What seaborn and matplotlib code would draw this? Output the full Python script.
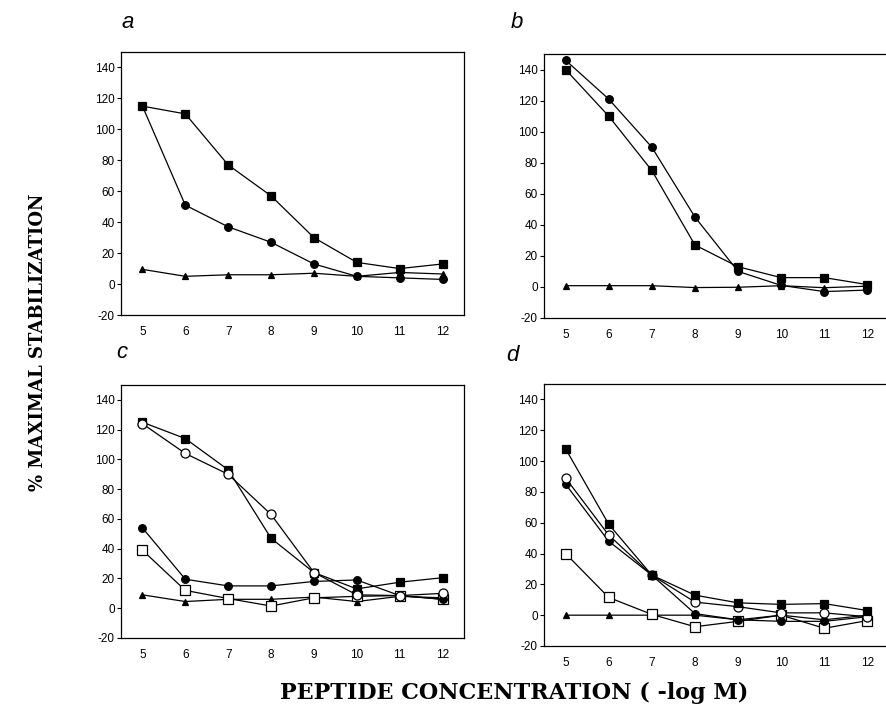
import numpy as np
import pandas as pd
import matplotlib
matplotlib.use('Agg')
import matplotlib.pyplot as plt
import seaborn as sns

sns.set_style('ticks')
plt.rcParams['font.family'] = ['Liberation Sans', 'DejaVu Sans']
plt.rcParams['axes.unicode_minus'] = False
plt.rcParams['text.color'] = 'black'
plt.rcParams['xtick.color'] = 'black'
plt.rcParams['ytick.color'] = 'black'

# data
conc = [5, 6, 7, 8, 9, 10, 11, 12]

a_filled_sq = [115, 110, 77, 57, 30, 14, 10, 13]
a_filled_circ = [115, 51, 37, 27, 13, 5, 4, 3]
a_tri = [9.5, 5, 6, 6, 7, 5, 7.5, 6.5]

b_filled_circ = [146, 121, 90, 45, 10, 1, -3, -2]
b_filled_sq = [140, 110, 75, 27, 13, 6, 6, 1.5]
b_tri = [0.8, 0.8, 0.8, -0.4, -0.2, 0.8, -0.5, 0.5]

c_filled_sq = [125, 114, 93, 47, 24, 13, 17.5, 20.5]
c_open_circ = [124, 104, 90, 63, 24, 9, 8.5, 10]
c_filled_circ = [54, 19.5, 15, 15, 18, 19, 8.5, 6]
c_open_sq = [39, 12, 6.5, 1.5, 7, 8, 8.5, 6]
c_tri = [9, 4.5, 6, 6, 7.5, 4.5, 8, 7]

d_filled_sq = [108, 59, 26, 13, 8, 7, 7.5, 3]
d_open_circ = [89, 52, 26, 8.5, 5.5, 1.5, 1.5, -1]
d_filled_circ = [85, 48, 26, 1, -3, -4, -4, -1]
d_open_sq = [40, 11.5, 0.5, -7.5, -4, 0, -8.5, -3.5]
d_tri = [0, 0, 0, 0, -3, 0, -3, 0]

yticks = [-20, 0, 20, 40, 60, 80, 100, 120, 140]

# marker styles: (marker, facecolor, size)
styles = {
    'filled_sq': ('s', 'black', 6),
    'filled_circ': ('o', 'black', 5.5),
    'open_circ': ('o', 'white', 6.5),
    'open_sq': ('s', 'white', 7),
    'tri': ('^', 'black', 5),
}

panels = {
    'a': [('filled_sq', a_filled_sq), ('filled_circ', a_filled_circ), ('tri', a_tri)],
    'b': [('filled_circ', b_filled_circ), ('filled_sq', b_filled_sq), ('tri', b_tri)],
    'c': [('tri', c_tri), ('open_sq', c_open_sq), ('filled_circ', c_filled_circ),
          ('filled_sq', c_filled_sq), ('open_circ', c_open_circ)],
    'd': [('tri', d_tri), ('open_sq', d_open_sq), ('filled_circ', d_filled_circ),
          ('open_circ', d_open_circ), ('filled_sq', d_filled_sq)],
}

W, H = 886, 713
# axes boxes in pixels: left, top, right, bottom
boxes = {
    'a': (121, 52, 464, 315),
    'b': (544, 54, 889, 318),
    'c': (121, 385, 464, 638),
    'd': (544, 384, 889, 646),
}
letters = {'a': (128, 22), 'b': (517, 22), 'c': (122, 353), 'd': (512, 355)}

fig = plt.figure(figsize=(W / 100, H / 100), dpi=100)

for key, series in panels.items():
    l, t, r, b = boxes[key]
    ax = fig.add_axes([l / W, 1 - b / H, (r - l) / W, (b - t) / H])
    for name, vals in series:
        m, fc, ms = styles[name]
        df = pd.DataFrame({'conc': conc, 'val': vals})
        sns.lineplot(data=df, x='conc', y='val', ax=ax, color='black',
                     linewidth=0.9, marker=m, markersize=ms,
                     markerfacecolor=fc, markeredgecolor='black',
                     markeredgewidth=0.9)
    ax.set_xlim(4.5, 12.5)
    ax.set_ylim(-20, 150)
    ax.set_xticks(conc)
    ax.set_yticks(yticks)
    ax.set_xlabel('')
    ax.set_ylabel('')
    ax.tick_params(axis='x', length=0, pad=8, labelsize=8.5)
    ax.tick_params(axis='y', length=3, width=0.8, direction='out', pad=1.5, labelsize=8.5)
    for sp in ax.spines.values():
        sp.set_visible(True)
        sp.set_linewidth(0.9)
        sp.set_color('black')
    lx, ly = letters[key]
    fig.text(lx / W, 1 - ly / H, key, fontsize=16, style='italic',
             ha='center', va='center')

fig.text(38 / W, 1 - 342 / H, '% MAXIMAL STABILIZATION', rotation=90,
         family='DejaVu Serif', fontweight='bold', fontsize=13,
         ha='center', va='center')
fig.text(514 / W, 1 - 693 / H, 'PEPTIDE CONCENTRATION ( -log M)',
         family='DejaVu Serif', fontweight='bold', fontsize=16,
         ha='center', va='center')

fig.savefig('out.png', dpi=100)
